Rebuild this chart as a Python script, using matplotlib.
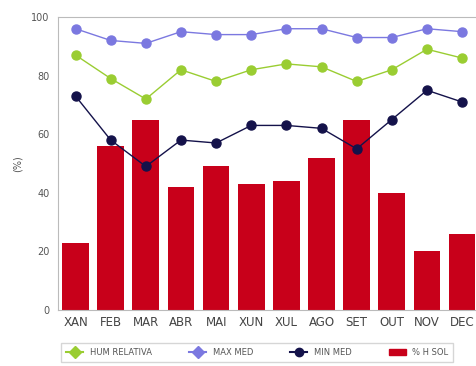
import numpy as np
import matplotlib.pyplot as plt
from matplotlib.lines import Line2D
from matplotlib.patches import Patch

months = ['XAN', 'FEB', 'MAR', 'ABR', 'MAI', 'XUN', 'XUL', 'AGO', 'SET', 'OUT', 'NOV', 'DEC']
hum_relativa = [87, 79, 72, 82, 78, 82, 84, 83, 78, 82, 89, 86]
max_med = [96, 92, 91, 95, 94, 94, 96, 96, 93, 93, 96, 95]
min_med = [73, 58, 49, 58, 57, 63, 63, 62, 55, 65, 75, 71]
h_sol = [23, 56, 65, 42, 49, 43, 44, 52, 65, 40, 20, 26]

c_green = '#9acd32'
c_blue = '#7b78e0'
c_navy = '#14124a'
c_red = '#c8001a'

fig = plt.figure(figsize=(4.77, 3.66), dpi=100)
ax = fig.add_axes([0.1216, 0.153, 0.884, 0.8005])

x = np.arange(len(months))
ax.bar(x, h_sol, width=0.76, color=c_red, zorder=2)
ax.plot(x, hum_relativa, '-o', color=c_green, ms=6.5, lw=1, zorder=3)
ax.plot(x, max_med, '-o', color=c_blue, ms=6.5, lw=1, zorder=3)
ax.plot(x, min_med, '-o', color=c_navy, ms=6.5, lw=1, zorder=3)

ax.set_xlim(-0.5, 11.5)
ax.set_ylim(0, 100)
ax.set_yticks([0, 20, 40, 60, 80, 100])
ax.set_xticks(x)
ax.set_xticklabels(months, fontsize=8.5, color='#444444')
ax.tick_params(axis='y', labelsize=7, colors='#555555', length=0, pad=6)
ax.tick_params(axis='x', length=0, pad=4)
for s in ax.spines.values():
    s.set_color('#bbbbbb')
    s.set_linewidth(0.8)
ax.set_ylabel('(%)', fontsize=7, color='#555555', labelpad=6)

handles = [
    Line2D([], [], color=c_green, marker='D', ms=6, lw=1.5),
    Line2D([], [], color=c_blue, marker='D', ms=6, lw=1.5),
    Line2D([], [], color=c_navy, marker='o', ms=6, lw=1.5),
    Patch(color=c_red),
]
labels = ['HUM RELATIVA', 'MAX MED', 'MIN MED', '% H SOL']
leg = fig.legend(handles, labels, loc='lower left', bbox_to_anchor=(0.12, 0.0), ncol=4,
                 fontsize=6, frameon=True, fancybox=False, edgecolor='#cccccc',
                 handlelength=2, columnspacing=4.5, borderpad=0.6,
                 handleheight=0.8)
for t in leg.get_texts():
    t.set_color('#555555')

fig.savefig('out.png', dpi=100)
